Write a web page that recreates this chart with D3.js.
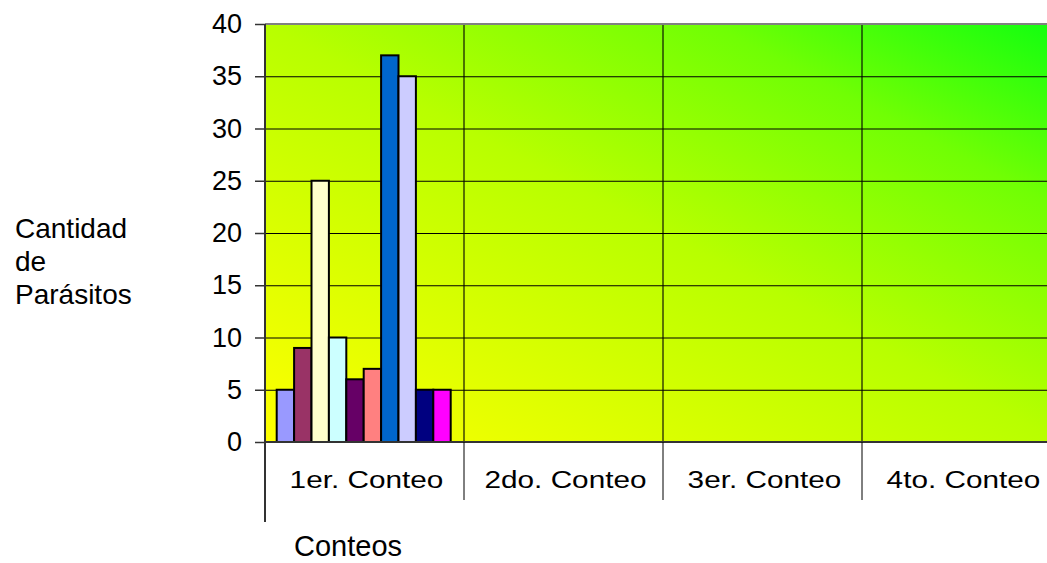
<!DOCTYPE html>
<html>
<head>
<meta charset="utf-8">
<script src="https://cdn.jsdelivr.net/npm/d3@7"></script>
<style>
  html, body { margin: 0; padding: 0; background: #fff; }
  svg { display: block; font-family: "Liberation Sans", Arial, sans-serif; }
</style>
</head>
<body>
<div id="chart"></div>
<script>
// Data
const categories = ["1er. Conteo", "2do. Conteo", "3er. Conteo", "4to. Conteo"];
const seriesNames = ["Serie 1", "Serie 2", "Serie 3", "Serie 4", "Serie 5",
                     "Serie 6", "Serie 7", "Serie 8", "Serie 9", "Serie 10"];
// one row per series, one value per conteo (null = no bar)
const seriesValues = [
  [5, null, null, null],
  [9, null, null, null],
  [25, null, null, null],
  [10, null, null, null],
  [6, null, null, null],
  [7, null, null, null],
  [37, null, null, null],
  [35, null, null, null],
  [5, null, null, null],
  [5, null, null, null]
];
const seriesColors = ["#9999ff", "#993366", "#ffffcc", "#ccffff", "#660066",
                      "#ff8080", "#0066cc", "#ccccff", "#000080", "#ff00ff"];
const yTicks = [0, 5, 10, 15, 20, 25, 30, 35, 40];
const yTitleLines = ["Cantidad", "de", "Parásitos"];
const xTitle = "Conteos";

// Dimensions
const W = 1047, H = 563;
const plot = { left: 265, top: 24, right: 1061, bottom: 442 };

const svg = d3.select("#chart").append("svg")
  .attr("width", W).attr("height", H);

// Scales
const x = d3.scaleBand().domain(categories).range([plot.left, plot.right]).padding(0);
const xInner = d3.scaleBand().domain(seriesNames)
  .range([11.7, x.bandwidth() - 13.3]).padding(0);
const y = d3.scaleLinear().domain([0, 40]).range([plot.bottom, plot.top]);

// Background gradient (yellow bottom-left -> green top-right)
const grad = svg.append("defs").append("linearGradient")
  .attr("id", "bg").attr("x1", 0).attr("y1", 1).attr("x2", 1).attr("y2", 0);
grad.append("stop").attr("offset", 0).attr("stop-color", "#ffff00");
grad.append("stop").attr("offset", 0.5).attr("stop-color", "#b8ff00");
grad.append("stop").attr("offset", 0.78).attr("stop-color", "#70ff04");
grad.append("stop").attr("offset", 1).attr("stop-color", "#10ff10");

svg.append("rect")
  .attr("x", plot.left).attr("y", plot.top)
  .attr("width", plot.right - plot.left).attr("height", plot.bottom - plot.top)
  .attr("fill", "url(#bg)");

// Horizontal grid
svg.append("g")
  .attr("transform", `translate(${plot.left},0)`)
  .call(d3.axisLeft(y).tickValues(yTicks.filter(t => t > 0 && t < 40))
    .tickSize(-(plot.right - plot.left)).tickFormat(""))
  .call(g => g.select(".domain").remove())
  .call(g => g.selectAll(".tick line").attr("stroke", "#000").attr("stroke-width", 1));

// Vertical grid at category boundaries
svg.append("g").selectAll("line")
  .data(categories.slice(1))
  .join("line")
  .attr("x1", d => x(d)).attr("x2", d => x(d))
  .attr("y1", plot.top).attr("y2", plot.bottom)
  .attr("stroke", "rgba(0,0,0,0.55)").attr("stroke-width", 2);

// Top border
svg.append("line")
  .attr("x1", plot.left).attr("x2", plot.right)
  .attr("y1", plot.top).attr("y2", plot.top)
  .attr("stroke", "#808080").attr("stroke-width", 2);

// Bars
const barData = [];
seriesNames.forEach((s, i) => {
  categories.forEach((c, j) => {
    const v = seriesValues[i][j];
    if (v != null) barData.push({ series: s, cat: c, value: v, color: seriesColors[i] });
  });
});

svg.append("g").selectAll("rect")
  .data(barData)
  .join("rect")
  .attr("x", d => x(d.cat) + xInner(d.series))
  .attr("y", d => y(d.value))
  .attr("width", xInner.bandwidth())
  .attr("height", d => y(0) - y(d.value))
  .attr("fill", d => d.color)
  .attr("stroke", "#000")
  .attr("stroke-width", 2);

// Y axis
const gy = svg.append("g")
  .attr("transform", `translate(${plot.left},0)`)
  .call(d3.axisLeft(y).tickValues(yTicks).tickSize(10).tickPadding(13));
gy.select(".domain").remove();
gy.selectAll(".tick line").attr("stroke", "#333").attr("stroke-width", 1.5);
gy.selectAll("text").attr("font-size", 27).attr("fill", "#000")
  .attr("font-family", "Liberation Sans, Arial, sans-serif");

// Left axis line (extends through category area)
svg.append("line")
  .attr("x1", plot.left).attr("x2", plot.left)
  .attr("y1", plot.top).attr("y2", 522)
  .attr("stroke", "#333").attr("stroke-width", 2);

// Bottom axis line
svg.append("line")
  .attr("x1", plot.left).attr("x2", plot.right)
  .attr("y1", plot.bottom).attr("y2", plot.bottom)
  .attr("stroke", "#333").attr("stroke-width", 2);

// Category dividers below axis
svg.append("g").selectAll("line")
  .data(categories.slice(1))
  .join("line")
  .attr("x1", d => x(d)).attr("x2", d => x(d))
  .attr("y1", plot.bottom).attr("y2", 500)
  .attr("stroke", "#000").attr("stroke-width", 1);

// Category labels
svg.append("g").selectAll("text")
  .data(categories)
  .join("text")
  .attr("transform", d => `translate(${x(d) + x.bandwidth() / 2 + 2},488) scale(1.24,1)`)
  .attr("text-anchor", "middle")
  .attr("font-size", 24)
  .attr("fill", "#000")
  .text(d => d);

// Axis titles
svg.append("text")
  .attr("x", 15).attr("font-size", 28).attr("fill", "#000")
  .selectAll("tspan")
  .data(yTitleLines)
  .join("tspan")
  .attr("x", 15)
  .attr("y", (d, i) => 238 + i * 33)
  .text(d => d);

svg.append("text")
  .attr("x", 294).attr("y", 556)
  .attr("font-size", 29).attr("fill", "#000")
  .text(xTitle);
</script>
</body>
</html>
